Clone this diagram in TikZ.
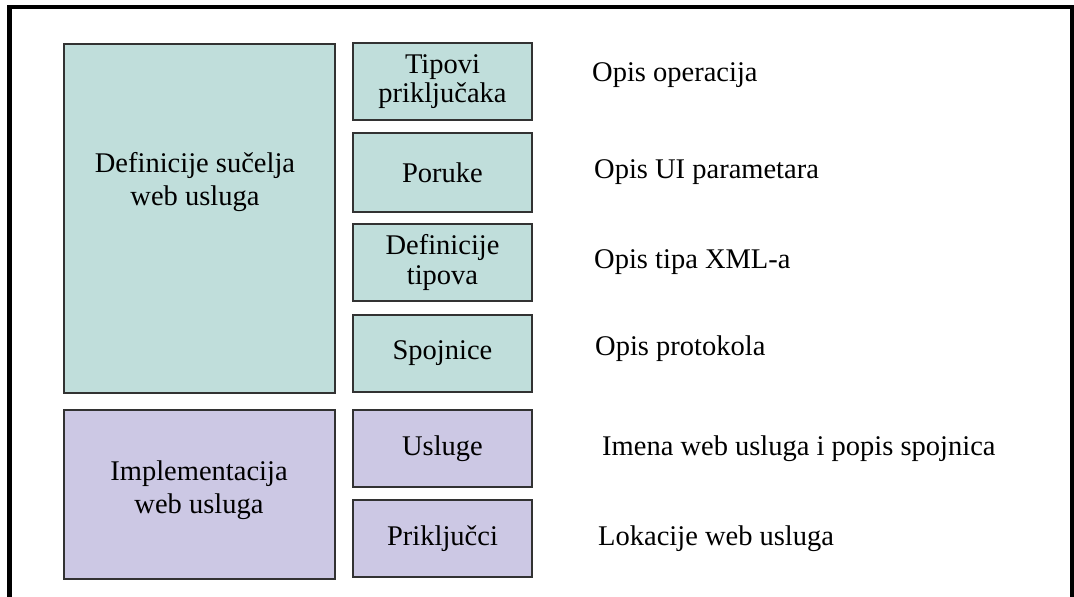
\documentclass[tikz,border=0pt]{standalone}
\usepackage{fontspec}
\setmainfont{Liberation Serif}
\definecolor{tealfill}{RGB}{192,222,219}
\definecolor{lavfill}{RGB}{204,200,228}
\definecolor{boxline}{RGB}{50,50,50}
\begin{document}
\begin{tikzpicture}[x=1pt,y=-1pt,
  box/.style={draw=boxline,line width=2.5pt,inner sep=0pt,outer sep=0pt,rectangle},
  tealbox/.style={box,fill=tealfill},
  lavbox/.style={box,fill=lavfill},
  smallbox/.style={minimum width=179pt,minimum height=77pt,align=center,
    font=\fontsize{28.5}{29.5}\selectfont},
  bigtext/.style={align=center,font=\fontsize{28.5}{32.5}\selectfont,inner sep=0pt},
  desc/.style={anchor=base west,inner sep=0pt,font=\fontsize{28.5}{32}\selectfont},
  frame/.style={line width=4.5pt,draw=black}
]
\useasboundingbox (0,0) rectangle (1074,597);
\fill[white] (0,0) rectangle (1074,597);
% frame
\coordinate (fbl) at (9.5,597);
\coordinate (ftl) at (9.5,7);
\coordinate (ftr) at (1072,7);
\coordinate (fbr) at (1072,597);
\draw[frame] (fbl) -- (ftl) -- (ftr) -- (fbr);
% big boxes
\node[tealbox,minimum width=271pt,minimum height=349pt] (defbox) at (199.5,218.5) {};
\node[bigtext] (deftxt) at (195,182) {Definicije sučelja\\web usluga};
\node[lavbox,minimum width=271pt,minimum height=169pt] (impbox) at (199.5,494.5) {};
\node[bigtext] (imptxt) at (199,490) {Implementacija\\web usluga};
% small boxes
\node[tealbox,smallbox] (tip) at (442.5,81.5) {Tipovi\\priključaka};
\node[tealbox,smallbox,minimum height=79pt] (por) at (442.5,172.5) {Poruke};
\node[tealbox,smallbox] (dtip) at (442.5,262.5) {Definicije\\tipova};
\node[tealbox,smallbox] (spo) at (442.5,353.5) {Spojnice};
\node[lavbox,smallbox] (usl) at (442.5,448.5) {Usluge};
\node[lavbox,smallbox] (pri) at (442.5,538.5) {Priključci};
% descriptions
\node[desc] (d1) at (592,81) {Opis operacija};
\node[desc] (d2) at (594,178) {Opis UI parametara};
\node[desc] (d3) at (594,268) {Opis tipa XML-a};
\node[desc] (d4) at (595,355) {Opis protokola};
\node[desc] (d5) at (602,455) {Imena web usluga i popis spojnica};
\node[desc] (d6) at (598,545) {Lokacije web usluga};
\end{tikzpicture}
\end{document}
